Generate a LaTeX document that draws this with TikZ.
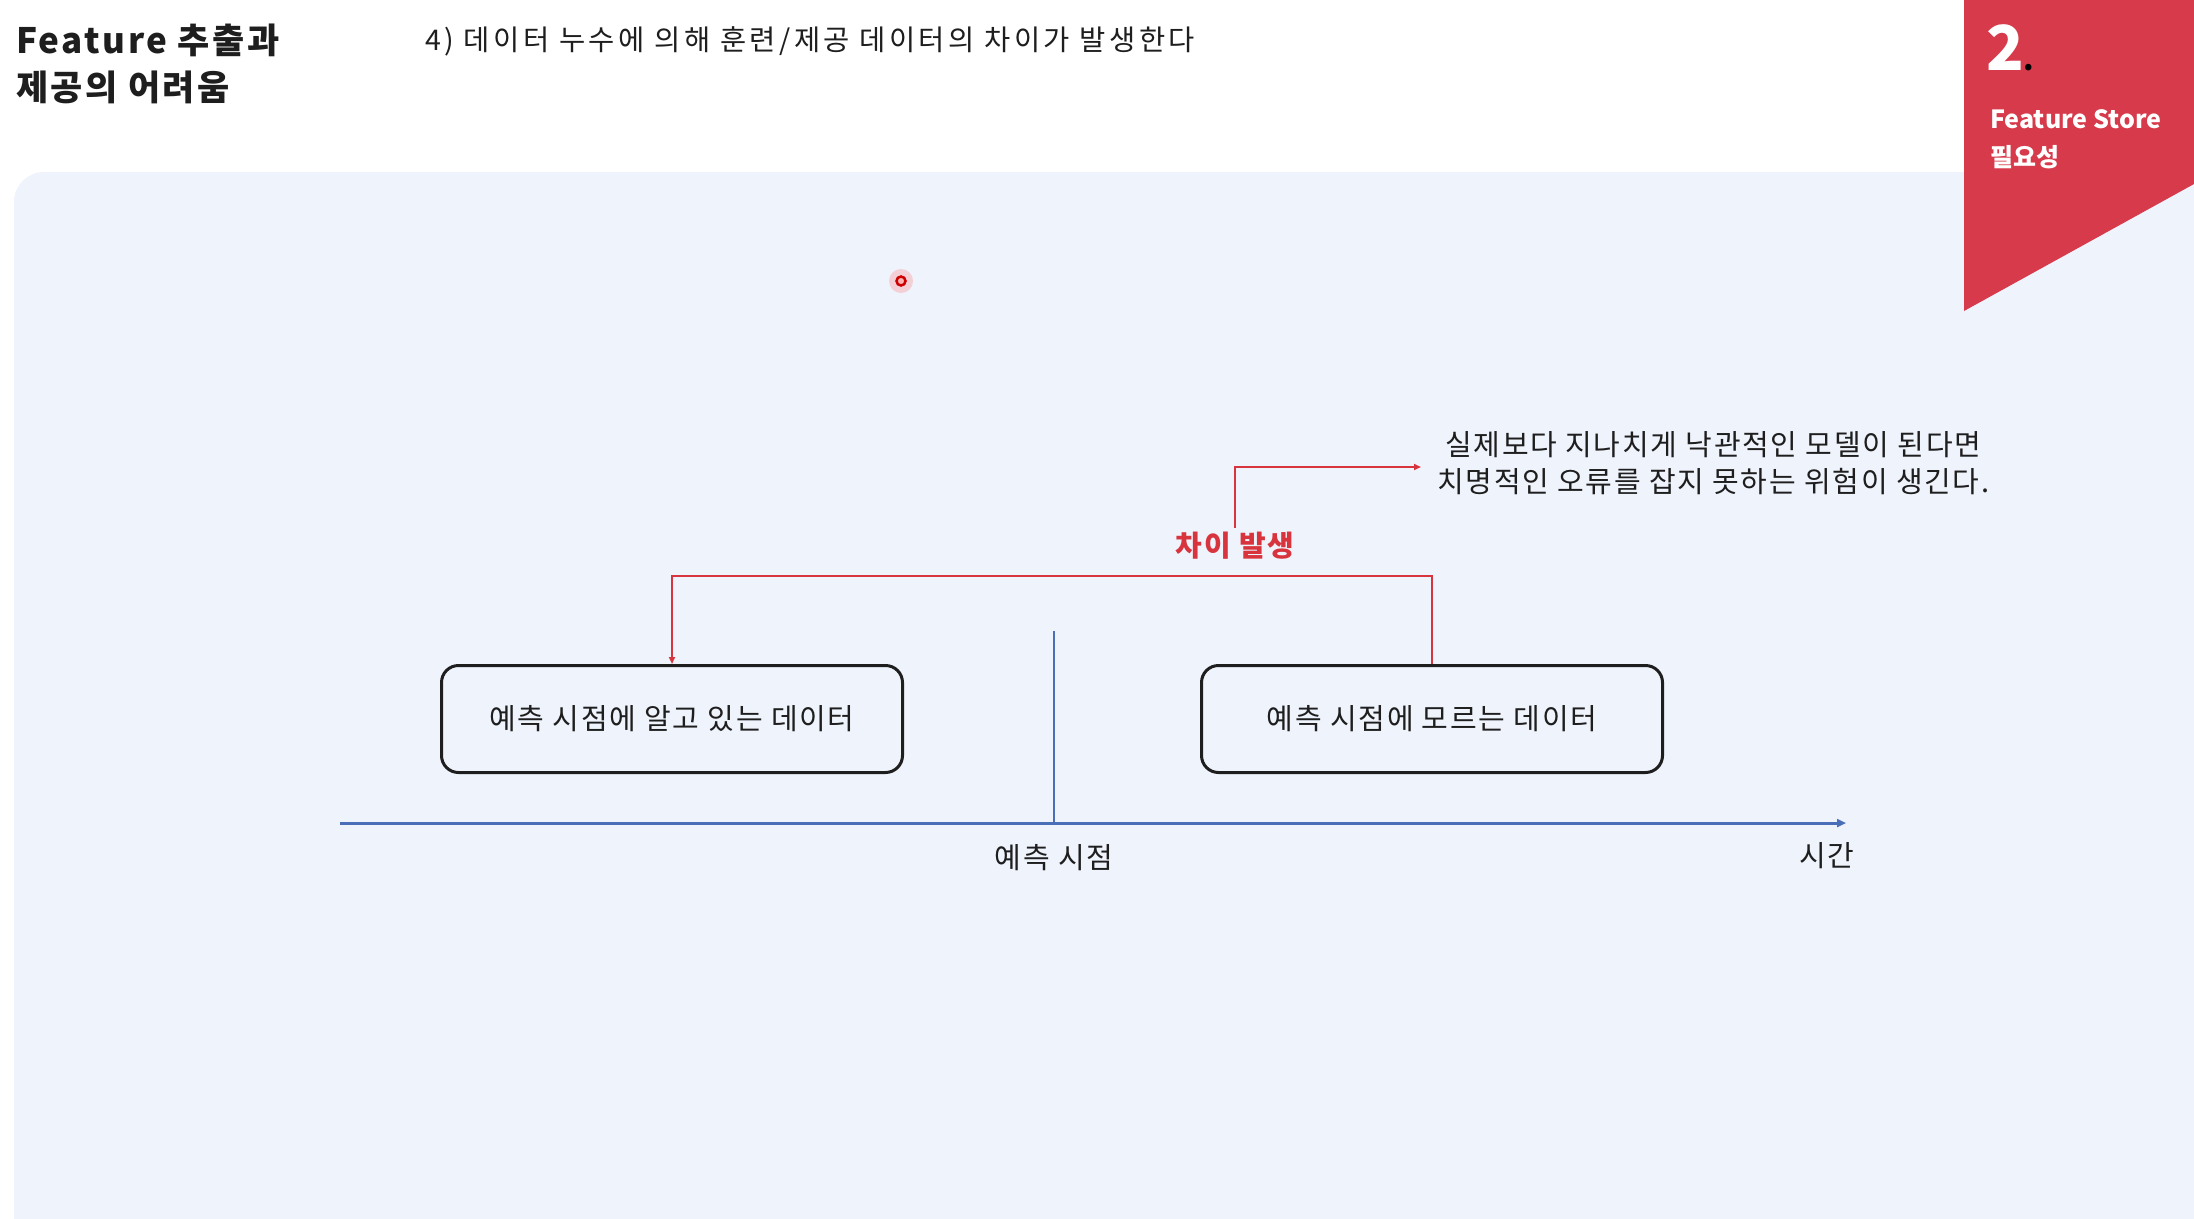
\documentclass[tikz,border=0pt]{standalone}
\usepackage{fontspec}
\setmainfont{Noto Sans CJK KR}
\usetikzlibrary{arrows.meta,calc}
\definecolor{panel}{HTML}{EFF3FC}
\definecolor{bannerred}{HTML}{D73A4A}
\definecolor{linered}{HTML}{D8343E}
\definecolor{axisblue}{HTML}{4A6FB8}
\definecolor{txt}{HTML}{1E1E1E}
\tikzset{
  databox/.style={draw=txt, line width=3pt, rounded corners=17pt, fill=panel,
    minimum width=461pt, minimum height=107pt, inner sep=0pt, text=txt,
    font=\fontsize{29}{34}\selectfont\addfontfeature{LetterSpace=6}},
  bodytext/.style={text=txt, inner sep=0pt, font=\fontsize{29}{37}\selectfont\addfontfeature{LetterSpace=6}},
  redline/.style={draw=linered, line width=1.8pt},
  axisline/.style={draw=axisblue, line width=3pt},
}
\begin{document}
\begin{tikzpicture}[x=1pt,y=-1pt]
\useasboundingbox (0,0) rectangle (2194,1218);
\fill[white] (0,0) rectangle (2194,1218);
% panel
\fill[panel, rounded corners=30pt] (14,172) rectangle (2260,1290);
% banner
\fill[bannerred] (1964,0) -- (2194,0) -- (2194,184) -- (1964,311) -- cycle;
\node[anchor=west, inner sep=0pt, text=white, font=\fontsize{62}{62}\selectfont\bfseries] (num) at (1986,48) {2\textcolor{black}{\fontsize{30}{30}\selectfont.}};
\node[anchor=west, inner sep=0pt, text=white, font=\fontsize{25}{38}\selectfont\bfseries, align=left] (sec) at (1990,139) {Feature Store\\필요성};
% titles
\node[anchor=west, inner sep=0pt, text=txt, font=\fontsize{35}{47}\selectfont\bfseries\addfontfeature{LetterSpace=7}, align=left] (title) at (16,64) {Feature 추출과\\제공의 어려움};
\node[anchor=west, bodytext, font=\fontsize{28.5}{34}\selectfont\addfontfeature{LetterSpace=12}] (sub) at (425,41) {4) 데이터 누수에 의해 훈련/제공 데이터의 차이가 발생한다};
% pointer dot
\fill[red!60, opacity=0.25] (901,281) circle (12pt);
\draw[draw=red!80!black, line width=2.5pt, fill=red!30] (901,281) circle (4.5pt);
% boxes
\node[databox] (known) at (672,719) {예측 시점에 알고 있는 데이터};
\node[databox] (unknown) at (1432,719) {예측 시점에 모르는 데이터};
% timeline
\coordinate (t0) at (340,823);
\coordinate (t1) at (1846,823);
\coordinate (ptop) at (1054,631);
\draw[axisline, -{Triangle[length=9pt,width=8pt]}] (t0) -- (t1);
\draw[draw=axisblue, line width=2pt] (ptop) -- (ptop |- t0);
\node[bodytext] (plabel) at (1054,858) {예측 시점};
\node[bodytext] (tlabel) at (1827,856) {시간};
% difference bracket
\coordinate (brk) at (1432,576);
\draw[redline, -{Triangle[length=7pt,width=6pt]}] (unknown.north) -- (brk) -| (known.north);
\node[inner sep=0pt, text=linered, font=\fontsize{29}{34}\selectfont\bfseries\addfontfeature{LetterSpace=6}] (diff) at (1235,546) {차이 발생};
\node[bodytext, align=center, anchor=west] (note) at (1437,463) {실제보다 지나치게 낙관적인 모델이 된다면\\치명적인 오류를 잡지 못하는 위험이 생긴다.};
\draw[redline, -{Triangle[length=7pt,width=6pt]}] ([yshift=4pt]diff.north) |- ([xshift=-16pt,yshift=-4pt]note.west);
\end{tikzpicture}
\end{document}
